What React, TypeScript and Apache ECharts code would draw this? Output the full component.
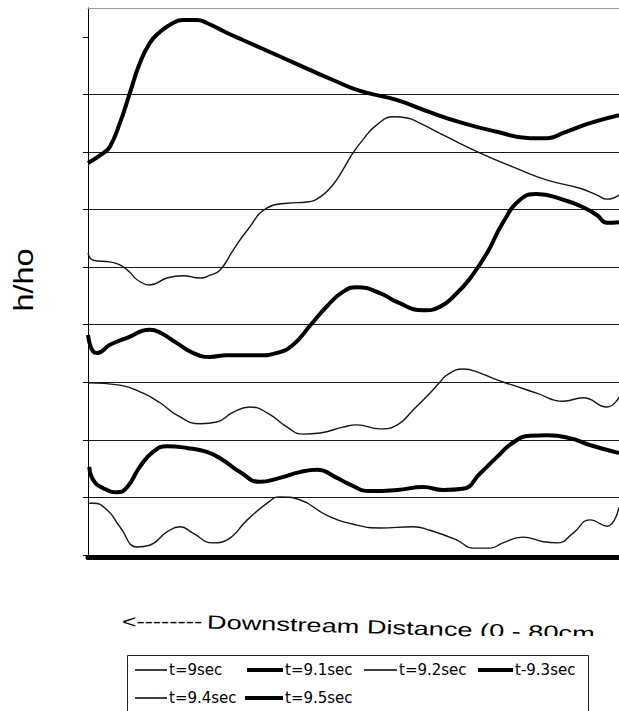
import React, { useEffect, useRef } from "react";
import * as echarts from "echarts";

// Series names (as printed in the legend)
const seriesNames = ["t=9sec", "t=9.1sec", "t=9.2sec", "t-9.3sec", "t=9.4sec", "t=9.5sec"];

// Downstream distance (cm) and h/ho readings for each time step
const x90 = [0.2, 0.8, 2.9, 4.8, 7.4, 9.3, 11.9, 13.9, 15.8, 18.8, 20.9, 24.0, 27.0, 28.9, 31.9, 36.0, 40.5, 44.0, 49.0, 51.5, 55.6, 58.0, 60.6, 62.5, 65.5, 68.6, 70.7, 73.1, 75.6, 78.2, 80];
const h90 = [0.90, 0.90, 0.78, 0.49, 0.14, 0.17, 0.40, 0.49, 0.38, 0.21, 0.26, 0.61, 0.90, 1.01, 0.96, 0.69, 0.52, 0.47, 0.49, 0.43, 0.26, 0.12, 0.12, 0.21, 0.31, 0.23, 0.21, 0.38, 0.61, 0.50, 0.83];

const x91 = [0.2, 0.8, 2.3, 4.4, 5.9, 7.8, 9.8, 11.9, 14.9, 17.9, 20.3, 22.9, 25.9, 28.9, 31.9, 34.5, 37.5, 39.0, 42.5, 46.6, 50.5, 53.5, 56.5, 59.1, 61.6, 64.0, 66.6, 69.2, 72.6, 75.6, 80];
const h91 = [1.53, 1.30, 1.16, 1.09, 1.18, 1.53, 1.79, 1.89, 1.86, 1.79, 1.65, 1.44, 1.27, 1.34, 1.44, 1.48, 1.34, 1.25, 1.11, 1.13, 1.18, 1.13, 1.15, 1.42, 1.70, 1.95, 2.07, 2.08, 2.03, 1.91, 1.77];

const x92 = [0, 4.8, 8.3, 10.9, 13.4, 16.9, 19.4, 21.9, 24.4, 27.0, 30.0, 32.4, 35.0, 38.4, 40.5, 44.0, 46.6, 49.0, 51.5, 53.0, 54.1, 56.5, 59.1, 61.6, 64.0, 67.6, 71.6, 74.6, 78.2, 80];
const h92 = [2.99, 2.95, 2.81, 2.64, 2.43, 2.28, 2.31, 2.48, 2.57, 2.47, 2.22, 2.10, 2.12, 2.22, 2.26, 2.19, 2.26, 2.52, 2.81, 3.00, 3.13, 3.23, 3.16, 3.04, 2.95, 2.81, 2.67, 2.73, 2.57, 2.74];

const x93 = [0, 0.8, 1.4, 3.3, 5.9, 9.3, 10.9, 13.4, 15.8, 18.4, 20.9, 25.9, 28.5, 30.9, 33.5, 36.0, 38.4, 40.5, 44.0, 46.6, 50.5, 53.0, 55.6, 57.6, 60.1, 62.5, 65.1, 67.6, 71.6, 74.6, 76.7, 78.2, 80];
const h93 = [3.82, 3.53, 3.51, 3.65, 3.77, 3.91, 3.86, 3.68, 3.51, 3.44, 3.47, 3.47, 3.51, 3.65, 3.99, 4.32, 4.57, 4.65, 4.55, 4.39, 4.25, 4.31, 4.55, 4.81, 5.24, 5.77, 6.17, 6.27, 6.17, 6.04, 5.90, 5.77, 5.78];

const x94 = [0, 0.8, 3.3, 4.8, 6.3, 7.4, 9.3, 11.9, 14.3, 16.9, 18.4, 19.9, 21.9, 24.0, 27.0, 30.0, 33.0, 35.0, 36.9, 38.4, 39.9, 41.4, 43.5, 46.0, 48.1, 50.0, 54.1, 59.1, 64.0, 69.2, 74.1, 76.7, 78.2, 80];
const h94 = [5.24, 5.12, 5.09, 5.04, 4.91, 4.78, 4.69, 4.81, 4.85, 4.81, 4.86, 4.95, 5.30, 5.64, 6.03, 6.11, 6.13, 6.22, 6.43, 6.69, 6.98, 7.21, 7.47, 7.61, 7.59, 7.50, 7.26, 6.98, 6.74, 6.51, 6.37, 6.25, 6.18, 6.25];

const x95 = [0, 2.3, 3.3, 4.8, 6.3, 7.8, 9.3, 10.8, 12.8, 14.3, 16.4, 17.9, 20.9, 23.4, 28.5, 33.5, 36.9, 41.0, 46.6, 51.5, 56.5, 61.6, 66.6, 69.2, 71.6, 75.6, 80];
const h95 = [6.81, 6.98, 7.09, 7.50, 8.02, 8.54, 8.89, 9.08, 9.24, 9.29, 9.29, 9.24, 9.07, 8.94, 8.68, 8.42, 8.25, 8.06, 7.90, 7.69, 7.50, 7.35, 7.24, 7.24, 7.33, 7.50, 7.64];

// Y-axis tick values
const yTicks = [0, 1, 2, 3, 4, 5, 6, 7, 8, 9];

const xs = [x90, x91, x92, x93, x94, x95];
const hs = [h90, h91, h92, h93, h94, h95];

const thick = [false, true, false, true, false, true];

const legendLayout = [
  { left: 135, top: 662, w: 32 },
  { left: 247, top: 662, w: 36 },
  { left: 364, top: 662, w: 33 },
  { left: 478, top: 662, w: 35 },
  { left: 135, top: 690, w: 32 },
  { left: 245, top: 690, w: 38 },
];

export default function App() {
  const ref = useRef<HTMLDivElement>(null);

  useEffect(() => {
    if (!ref.current) return;
    const chart = echarts.init(ref.current, null, { renderer: "svg" });

    const series = seriesNames.map((name, i) => ({
      name,
      type: "line",
      data: xs[i].map((x, j) => [x, hs[i][j]]),
      smooth: 0.5,
      showSymbol: false,
      symbol: "none",
      lineStyle: { color: thick[i] ? "#000" : "#151515", width: thick[i] ? 4 : 1.4 },
      itemStyle: { color: "#000" },
      z: 3,
    }));

    const legends = seriesNames.map((name, i) => ({
      data: [{ name, icon: "rect" }],
      left: legendLayout[i].left,
      top: legendLayout[i].top,
      orient: "horizontal",
      padding: 0,
      itemWidth: legendLayout[i].w,
      itemHeight: thick[i] ? 4 : 1.5,
      selectedMode: false,
      textStyle: { fontFamily: "DejaVu Sans", fontSize: 15, color: "#000", lineHeight: 16, padding: [0, 0, 0, -3] },
    }));

    chart.setOption({
      animation: false,
      backgroundColor: "#fff",
      grid: { left: 88, right: 0, top: 8, bottom: 156, containLabel: false },
      xAxis: [
        {
          type: "value",
          min: 0,
          max: 80,
          position: "bottom",
          offset: 2,
          axisLine: { show: true, onZero: false, lineStyle: { color: "#000", width: 5 } },
          axisTick: { show: false },
          axisLabel: { show: false },
          splitLine: { show: false },
        },
        {
          type: "value",
          min: 0,
          max: 80,
          position: "top",
          axisLine: { show: true, onZero: false, lineStyle: { color: "#9a9a9a", width: 1 } },
          axisTick: { show: false },
          axisLabel: { show: false },
          splitLine: { show: false },
        },
      ],
      yAxis: {
        type: "value",
        min: 0,
        max: 9.5,
        interval: 1,
        axisLine: { show: true, onZero: false, lineStyle: { color: "#000", width: 1 } },
        axisTick: { show: true, length: 5, customValues: yTicks, lineStyle: { color: "#000" } },
        axisLabel: { show: false },
        splitLine: { show: true, showMaxLine: false, lineStyle: { color: "#1a1a1a", width: 1 } },
      },
      legend: legends,
      series,
      graphic: [
        {
          type: "text",
          x: 23,
          y: 280,
          rotation: Math.PI / 2,
          scaleX: 1.2,
          style: { text: "h/ho", font: '27px "Liberation Sans"', fill: "#000", align: "center", verticalAlign: "middle" },
        },
        {
          type: "text",
          x: 122,
          y: 622,
          scaleX: 1.3,
          style: { text: "<--------", font: '19px "Liberation Sans"', fill: "#000", align: "left", verticalAlign: "middle" },
        },
        {
          type: "text",
          x: 207,
          y: 622,
          rotation: -0.03,
          scaleX: 1.43,
          style: { text: "Downstream Distance (0 - 80cm", font: '19px "Liberation Sans"', fill: "#000", align: "left", verticalAlign: "middle" },
        },
        {
          type: "rect",
          z: 100,
          shape: { x: 482, y: 636, width: 140, height: 15 },
          style: { fill: "#fff" },
        },
        {
          type: "rect",
          shape: { x: 127.5, y: 655.5, width: 461, height: 80 },
          style: { fill: "none", stroke: "#222", lineWidth: 1 },
        },
      ],
    });

    return () => chart.dispose();
  }, []);

  return (
    <div
      ref={ref}
      style={{ position: "absolute", left: 0, top: 0, width: 619, height: 711, background: "#fff" }}
    />
  );
}
